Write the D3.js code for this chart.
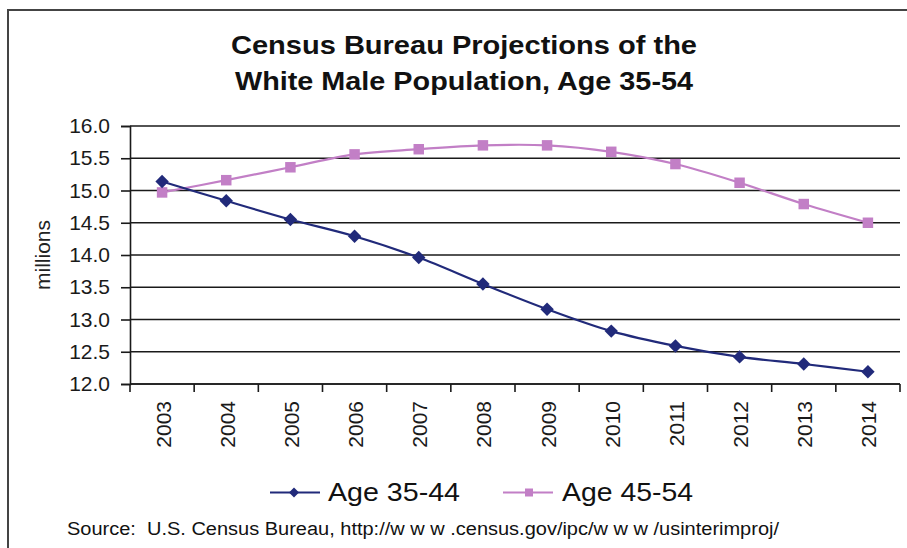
<!DOCTYPE html>
<html>
<head>
<meta charset="utf-8">
<script src="https://cdn.jsdelivr.net/npm/d3@7"></script>
<style>
  html, body { margin: 0; padding: 0; background: #fff; }
  svg { display: block; font-family: "Liberation Sans", Arial, sans-serif; }
</style>
</head>
<body>
<svg id="chart" width="907" height="548"></svg>
<script>
// Census Bureau projections, white male population (millions)
const years = ["2003","2004","2005","2006","2007","2008","2009","2010","2011","2012","2013","2014"];
const age3544 = [15.14, 14.84, 14.55, 14.29, 13.96, 13.55, 13.16, 12.82, 12.59, 12.42, 12.31, 12.19];
const age4554 = [14.97, 15.16, 15.36, 15.56, 15.64, 15.70, 15.70, 15.60, 15.41, 15.12, 14.79, 14.50];
const yTicks = [12.0, 12.5, 13.0, 13.5, 14.0, 14.5, 15.0, 15.5, 16.0];
const seriesNames = ["Age 35-44", "Age 45-54"];
const titleLines = ["Census Bureau Projections of the", "White Male Population, Age 35-54"];
const sourceNote = "Source:  U.S. Census Bureau, http://w w w .census.gov/ipc/w w w /usinterimproj/";

const svg = d3.select("#chart");
const plot = { left: 130, right: 900, top: 126, bottom: 384 };
const navy = "#212a7a";
const pink = "#c27fc6";

// outer frame
svg.append("rect")
  .attr("x", 8).attr("y", 10).attr("width", 920).attr("height", 560)
  .attr("fill", "#fff").attr("stroke", "#444").attr("stroke-width", 2);

// title, two centred lines
svg.append("g").selectAll("text").data(titleLines).join("text")
  .attr("x", 464).attr("y", (d, i) => 53.5 + i * 36)
  .attr("text-anchor", "middle")
  .attr("font-weight", "bold").attr("font-size", 25).attr("fill", "#111")
  .attr("textLength", (d, i) => i === 0 ? 466 : 458)
  .attr("lengthAdjust", "spacingAndGlyphs")
  .text(d => d);

const x = d3.scaleBand().domain(years).range([plot.left, plot.right]);
const y = d3.scaleLinear().domain([12, 16]).range([plot.bottom, plot.top]);

// horizontal gridlines
svg.append("g").selectAll("line").data(yTicks).join("line")
  .attr("x1", plot.left).attr("x2", plot.right)
  .attr("y1", d => y(d)).attr("y2", d => y(d))
  .attr("stroke", "#1a1a1a").attr("stroke-width", 1.6);

// y axis
const yAxis = svg.append("g").attr("transform", `translate(${plot.left},0)`)
  .call(d3.axisLeft(y).tickValues(yTicks).tickFormat(d3.format(".1f")).tickSize(9).tickPadding(11));
yAxis.select(".domain").attr("stroke", "#1a1a1a").attr("stroke-width", 1.6);
yAxis.selectAll(".tick line").attr("stroke", "#1a1a1a").attr("stroke-width", 1.6);
yAxis.selectAll(".tick text").attr("font-size", 21).attr("fill", "#1a1a1a")
  .attr("font-family", "Liberation Sans, Arial, sans-serif");

// x axis with ticks at category boundaries
const xAxisG = svg.append("g").attr("transform", `translate(0,${plot.bottom})`);
xAxisG.append("line").attr("x1", plot.left).attr("x2", plot.right)
  .attr("stroke", "#1a1a1a").attr("stroke-width", 1.6);
const boundaries = years.map(d => x(d)).concat([plot.right]);
xAxisG.selectAll("line.tk").data(boundaries).join("line").attr("class", "tk")
  .attr("x1", d => d).attr("x2", d => d).attr("y1", 0).attr("y2", 8)
  .attr("stroke", "#1a1a1a").attr("stroke-width", 1.6);
xAxisG.selectAll("text").data(years).join("text")
  .attr("transform", d => `translate(${x(d) + x.bandwidth() / 2 + 8.5},17) rotate(-90)`)
  .attr("text-anchor", "end").attr("font-size", 21).attr("fill", "#1a1a1a")
  .text(d => d);

// y axis title
svg.append("text")
  .attr("transform", "translate(50,255) rotate(-90)")
  .attr("text-anchor", "middle").attr("font-size", 21).attr("fill", "#222")
  .text("millions");

const cx = d => x(d) + x.bandwidth() / 2;
const line = d3.line().curve(d3.curveCatmullRom.alpha(0)).x(d => cx(d[0])).y(d => y(d[1]));

const s1 = years.map((d, i) => [d, age3544[i]]);
const s2 = years.map((d, i) => [d, age4554[i]]);

svg.append("path").datum(s2).attr("d", line)
  .attr("fill", "none").attr("stroke", pink).attr("stroke-width", 2.2);
svg.append("path").datum(s1).attr("d", line)
  .attr("fill", "none").attr("stroke", navy).attr("stroke-width", 2.2);

svg.append("g").selectAll("path").data(s2).join("path")
  .attr("transform", d => `translate(${cx(d[0])},${y(d[1])})`)
  .attr("d", d3.symbol().type(d3.symbolSquare).size(110)).attr("fill", pink);
svg.append("g").selectAll("path").data(s1).join("path")
  .attr("transform", d => `translate(${cx(d[0])},${y(d[1])}) rotate(45)`)
  .attr("d", d3.symbol().type(d3.symbolSquare).size(90)).attr("fill", navy);

// legend
const legend = svg.append("g");
const items = [
  { name: seriesNames[0], color: navy, x0: 270, tx: 328, tw: 132, marker: "diamond" },
  { name: seriesNames[1], color: pink, x0: 503, tx: 562, tw: 131, marker: "square" }
];
items.forEach(it => {
  legend.append("line").attr("x1", it.x0).attr("x2", it.x0 + 50)
    .attr("y1", 492.5).attr("y2", 492.5).attr("stroke", it.color).attr("stroke-width", 2);
  if (it.marker === "diamond") {
    legend.append("path").attr("transform", `translate(${it.x0 + 24},492.5) rotate(45)`)
      .attr("d", d3.symbol().type(d3.symbolSquare).size(50)).attr("fill", it.color);
  } else {
    legend.append("path").attr("transform", `translate(${it.x0 + 26},492.5)`)
      .attr("d", d3.symbol().type(d3.symbolSquare).size(64)).attr("fill", it.color);
  }
  legend.append("text").attr("x", it.tx).attr("y", 500.5)
    .attr("font-size", 26).attr("fill", "#111")
    .attr("textLength", it.tw).attr("lengthAdjust", "spacingAndGlyphs")
    .text(it.name);
});

// source note
svg.append("text").attr("x", 67).attr("y", 535)
  .attr("font-size", 18).attr("fill", "#111")
  .attr("textLength", 712).attr("lengthAdjust", "spacingAndGlyphs")
  .style("white-space", "pre")
  .text(sourceNote);
</script>
</body>
</html>
